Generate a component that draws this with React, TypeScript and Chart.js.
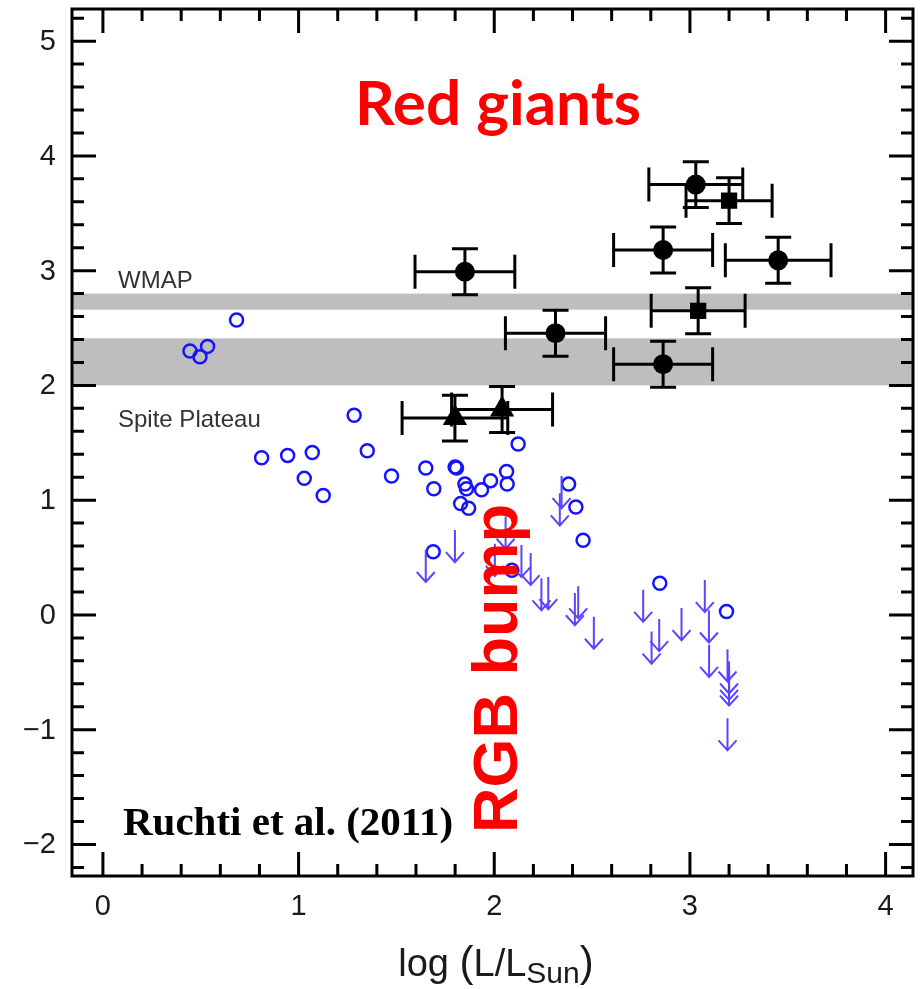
import React, { useEffect, useRef } from 'react';
import { Chart, registerables } from 'chart.js';
Chart.register(...registerables);

// ---- axis ----
const xTicks = [0, 1, 2, 3, 4];
const yTicks = [-2, -1, 0, 1, 2, 3, 4, 5];
const xRange = [-0.158, 4.14];
const yRange = [-2.275, 5.28];

// ---- shaded bands (A(Li) ranges) ----
const wmapBand = [2.66, 2.8];
const spiteBand = [2.0, 2.41];

// ---- open blue circles (detections) ----
const openX = [0.445, 0.496, 0.535, 0.683, 0.811, 0.944, 1.029, 1.07, 1.126, 1.284, 1.351, 1.475, 1.65, 1.691, 1.688, 1.8, 1.807, 1.828, 1.85, 1.858, 1.869, 1.935, 1.981, 2.063, 2.066, 2.09, 2.122, 2.38, 2.417, 2.454, 2.846, 3.187];
const openY = [2.3, 2.25, 2.34, 2.57, 1.37, 1.39, 1.19, 1.415, 1.04, 1.74, 1.43, 1.21, 1.28, 1.1, 0.55, 1.29, 1.28, 0.97, 1.14, 1.1, 0.93, 1.09, 1.17, 1.25, 1.14, 0.39, 1.49, 1.14, 0.94, 0.65, 0.276, 0.03];

// ---- upper limits (arrows) ----
const limX = [1.65, 1.799, 2.003, 2.058, 2.139, 2.186, 2.241, 2.276, 2.335, 2.344, 2.412, 2.429, 2.509, 2.761, 2.804, 2.843, 2.957, 3.076, 3.097, 3.098, 3.192, 3.2, 3.2, 3.2, 3.192];
const limY = [0.567, 0.74, 0.62, 0.857, 0.61, 0.54, 0.32, 0.33, 1.06, 1.21, 0.19, 0.25, -0.015, 0.22, -0.145, -0.035, 0.06, 0.305, 0.04, -0.26, -0.3, -0.405, -0.46, -0.51, -0.9];
const arrowLen = 0.28;

// ---- black circles ----
const circX = [1.85, 2.313, 2.863, 2.863, 3.03, 3.451];
const circY = [2.99, 2.455, 3.18, 2.185, 3.75, 3.09];
const circXerr = [0.255, 0.256, 0.253, 0.253, 0.24, 0.27];
const circYerr = [0.2, 0.2, 0.2, 0.2, 0.2, 0.2];

// ---- black squares ----
const sqX = [3.2, 3.042];
const sqY = [3.61, 2.65];
const sqXerr = [0.22, 0.24];
const sqYerr = [0.2, 0.2];

// ---- black triangles ----
const triX = [1.799, 2.04];
const triY = [1.715, 1.79];
const triXerr = [0.27, 0.258];
const triYerr = [0.2, 0.2];

const SANS = '"Liberation Sans", Arial, Helvetica, sans-serif';

const pts = (xs: number[], ys: number[]) => xs.map((x, i) => ({ x, y: ys[i] }));
const fmt = (v: number) => (v < 0 ? '\u2212' + Math.abs(v) : String(v));

const overlay = {
  id: 'overlay',
  beforeDatasetsDraw(chart: any) {
    const { ctx, chartArea: a, scales } = chart;
    const x = scales.x, y = scales.y;
    ctx.save();
    ctx.fillStyle = '#bebebe';
    for (const b of [wmapBand, spiteBand]) {
      const t = y.getPixelForValue(b[1]);
      const bt = y.getPixelForValue(b[0]);
      ctx.fillRect(a.left, t, a.right - a.left, bt - t);
    }
    ctx.fillStyle = '#333';
    ctx.font = `24px ${SANS}`;
    ctx.textBaseline = 'alphabetic';
    ctx.fillText('WMAP', 118, 288);
    ctx.fillText('Spite Plateau', 118, 427);

    // error bars
    ctx.strokeStyle = '#000';
    ctx.lineWidth = 3;
    chart.data.datasets.forEach((ds: any) => {
      if (!ds.xErr) return;
      ds.data.forEach((p: any, i: number) => {
        const cx = x.getPixelForValue(p.x), cy = y.getPixelForValue(p.y);
        const x0 = x.getPixelForValue(p.x - ds.xErr[i]);
        const x1 = x.getPixelForValue(p.x + ds.xErr[i]);
        const y0 = y.getPixelForValue(p.y + ds.yErr[i]);
        const y1 = y.getPixelForValue(p.y - ds.yErr[i]);
        ctx.beginPath();
        ctx.moveTo(x0, cy); ctx.lineTo(x1, cy);
        ctx.moveTo(x0, cy - 17); ctx.lineTo(x0, cy + 17);
        ctx.moveTo(x1, cy - 17); ctx.lineTo(x1, cy + 17);
        ctx.moveTo(cx, y0); ctx.lineTo(cx, y1);
        ctx.moveTo(cx - 13, y0); ctx.lineTo(cx + 13, y0);
        ctx.moveTo(cx - 13, y1); ctx.lineTo(cx + 13, y1);
        ctx.stroke();
      });
    });
    ctx.restore();
  },
  afterDatasetsDraw(chart: any) {
    const { ctx, chartArea: a, scales } = chart;
    const x = scales.x, y = scales.y;
    ctx.save();
    // upper-limit arrows
    chart.data.datasets.forEach((ds: any) => {
      if (!ds.isLimit) return;
      ctx.strokeStyle = '#5a44ff';
      ctx.lineWidth = 2;
      ds.data.forEach((p: any) => {
        const px = x.getPixelForValue(p.x);
        const top = y.getPixelForValue(p.y);
        const bot = y.getPixelForValue(p.y - arrowLen);
        ctx.beginPath();
        ctx.moveTo(px, top); ctx.lineTo(px, bot);
        ctx.moveTo(px - 9, bot - 10); ctx.lineTo(px, bot); ctx.lineTo(px + 9, bot - 10);
        ctx.stroke();
      });
    });

    // frame and ticks
    ctx.strokeStyle = '#000';
    ctx.lineWidth = 3;
    ctx.strokeRect(a.left, a.top, a.right - a.left, a.bottom - a.top);
    ctx.beginPath();
    for (let k = -10; k <= 30; k++) {
      const v = k / 5;
      if (v < xRange[0] || v > xRange[1]) continue;
      const len = k % 5 === 0 ? 24 : 12;
      const px = x.getPixelForValue(v);
      ctx.moveTo(px, a.bottom); ctx.lineTo(px, a.bottom - len);
      ctx.moveTo(px, a.top); ctx.lineTo(px, a.top + len);
    }
    for (let k = -15; k <= 30; k++) {
      const v = k / 5;
      if (v < yRange[0] || v > yRange[1]) continue;
      const len = k % 5 === 0 ? 24 : 12;
      const py = y.getPixelForValue(v);
      ctx.moveTo(a.left, py); ctx.lineTo(a.left + len, py);
      ctx.moveTo(a.right, py); ctx.lineTo(a.right - len, py);
    }
    ctx.stroke();

    // tick labels
    ctx.fillStyle = '#1a1a1a';
    ctx.font = `29px ${SANS}`;
    ctx.textBaseline = 'middle';
    ctx.textAlign = 'right';
    for (const v of yTicks) ctx.fillText(fmt(v), a.left - 16, y.getPixelForValue(v) + 1);
    ctx.textAlign = 'center';
    for (const v of xTicks) ctx.fillText(fmt(v), x.getPixelForValue(v), a.bottom + 31);

    // annotations
    ctx.fillStyle = '#ff0000';
    ctx.font = `bold 62px Lato, "Open Sans", sans-serif`;
    ctx.textAlign = 'center';
    ctx.textBaseline = 'alphabetic';
    ctx.fillText('Red giants', 498, 125);

    ctx.save();
    ctx.translate(517, 833);
    ctx.rotate(-Math.PI / 2);
    ctx.textAlign = 'left';
    ctx.font = `bold 63px ${SANS}`;
    ctx.fillText('RGB bump', 0, 0);
    ctx.restore();

    ctx.fillStyle = '#000';
    ctx.textAlign = 'left';
    ctx.font = `bold 41px "Liberation Serif", "DejaVu Serif", serif`;
    ctx.fillText('Ruchti et al. (2011)', 123, 835);

    // x axis title with subscript
    ctx.fillStyle = '#1a1a1a';
    const parts: [string, number, number][] = [
      ['log ', 38, 0], ['(', 42, 0], ['L/L', 38, 0], ['Sun', 30, 7], [')', 42, 0],
    ];
    let total = 0;
    for (const [t, s] of parts) { ctx.font = `${s}px ${SANS}`; total += ctx.measureText(t).width; }
    let cx = 496 - total / 2;
    for (const [t, s, dy] of parts) {
      ctx.font = `${s}px ${SANS}`;
      ctx.fillText(t, cx, 976 + dy);
      cx += ctx.measureText(t).width;
    }
    ctx.restore();
  },
};

export default function App() {
  const ref = useRef<HTMLCanvasElement>(null);
  useEffect(() => {
    const chart = new Chart(ref.current!, {
      type: 'scatter',
      data: {
        datasets: [
          {
            label: 'detections',
            data: pts(openX, openY),
            pointStyle: 'circle',
            pointRadius: 6.5,
            borderWidth: 2.5,
            borderColor: '#1414ff',
            backgroundColor: 'rgba(0,0,0,0)',
          },
          {
            label: 'upper limits',
            data: pts(limX, limY),
            pointRadius: 0,
            isLimit: true,
          } as any,
          {
            label: 'circles',
            data: pts(circX, circY),
            pointStyle: 'circle',
            pointRadius: 10,
            borderWidth: 0,
            backgroundColor: '#000',
            xErr: circXerr,
            yErr: circYerr,
          } as any,
          {
            label: 'squares',
            data: pts(sqX, sqY),
            pointStyle: 'rect',
            pointRadius: 11.5,
            borderWidth: 0,
            backgroundColor: '#000',
            xErr: sqXerr,
            yErr: sqYerr,
          } as any,
          {
            label: 'triangles',
            data: pts(triX, triY),
            pointStyle: 'triangle',
            pointRadius: 14,
            borderWidth: 0,
            backgroundColor: '#000',
            xErr: triXerr,
            yErr: triYerr,
          } as any,
        ],
      },
      options: {
        animation: false,
        responsive: false,
        layout: { autoPadding: false, padding: { top: 9, right: 9, left: 0, bottom: 0 } },
        plugins: { legend: { display: false }, tooltip: { enabled: false } },
        scales: {
          x: {
            type: 'linear',
            min: xRange[0],
            max: xRange[1],
            grid: { display: false, drawTicks: false },
            border: { display: false },
            afterBuildTicks: (s: any) => { s.ticks = xTicks.map((v) => ({ value: v })); },
            afterFit: (s: any) => { s.height = 113; },
            ticks: { display: false },
          },
          y: {
            type: 'linear',
            min: yRange[0],
            max: yRange[1],
            grid: { display: false, drawTicks: false },
            border: { display: false },
            afterBuildTicks: (s: any) => { s.ticks = yTicks.map((v) => ({ value: v })); },
            afterFit: (s: any) => { s.width = 72; },
            ticks: { display: false },
          },
        },
      },
      plugins: [overlay],
    });
    return () => chart.destroy();
  }, []);
  return (
    <div style={{ position: 'fixed', left: 0, top: 0, width: 922, height: 989, background: '#fff' }}>
      <canvas ref={ref} width={922} height={989} style={{ display: 'block' }} />
    </div>
  );
}
